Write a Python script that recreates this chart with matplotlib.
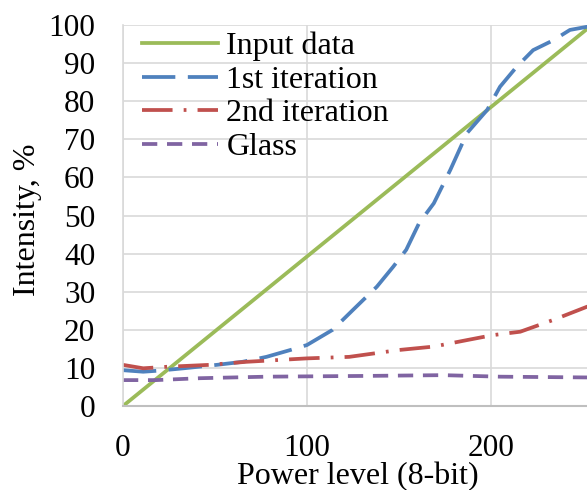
import matplotlib.pyplot as plt
import numpy as np

plt.rcParams['font.family'] = ['Liberation Serif', 'DejaVu Serif']
plt.rcParams['lines.scale_dashes'] = False

# power level (8-bit) and measured intensity, %
x_input = [0, 255]
y_input = [0, 100]

x_iter1 = [0, 11, 20, 33, 51, 65, 78, 91, 100, 114, 125, 138, 147, 154, 161,
           169, 178, 187, 198, 205, 214, 223, 234, 243, 252, 255]
y_iter1 = [9.4, 9.0, 9.3, 9.9, 10.8, 11.6, 12.9, 14.7, 16.0, 20.0, 25.2, 31.3,
           36.6, 41.0, 48.0, 53.2, 62.0, 71.6, 77.7, 83.8, 89.0, 93.4, 96.0,
           98.7, 99.5, 99.7]

x_iter2 = [0, 11, 24, 47, 67, 100, 123, 150, 169, 187, 201, 216, 234, 252, 255]
y_iter2 = [10.8, 9.9, 10.3, 10.8, 11.6, 12.5, 12.9, 14.7, 15.6, 17.3, 18.6,
           19.5, 22.6, 26.0, 26.5]

x_glass = [0, 18, 42, 78, 132, 174, 205, 252, 255]
y_glass = [6.8, 6.8, 7.3, 7.7, 7.9, 8.1, 7.7, 7.5, 7.5]

fig = plt.figure(figsize=(5.87, 4.90), dpi=100)
ax = fig.add_axes([0.2095, 0.1714, 0.799, 0.7776])

lw = 2.7
ax.plot(x_input, y_input, color='#9BBB59', lw=lw, label='Input data')
ax.plot(x_iter1, y_iter1, color='#4F81BD', lw=lw, dashes=(24, 9),
        label='1st iteration')
ax.plot(x_iter2, y_iter2, color='#C0504D', lw=lw, dashes=(22, 8, 2, 8),
        label='2nd iteration')
ax.plot(x_glass, y_glass, color='#8064A2', lw=lw, dashes=(11, 7),
        label='Glass')

ax.set_xlim(0, 255)
ax.set_ylim(0, 100)
ax.set_xticks([0, 100, 200])
ax.set_yticks(np.arange(0, 101, 10))
ax.grid(True, color='#D9D9D9', lw=1.2)
ax.set_axisbelow(True)
ax.tick_params(length=0, labelsize=22.5)
ax.tick_params(axis='x', pad=20)
ax.tick_params(axis='y', pad=20)
for s in ['top', 'right']:
    ax.spines[s].set_visible(False)
ax.spines['left'].set_color('#D9D9D9')
ax.spines['bottom'].set_color('#BFBFBF')
ax.spines['left'].set_linewidth(1.2)
ax.spines['bottom'].set_linewidth(1.5)

ax.set_xlabel('Power level (8-bit)', fontsize=23)
ax.set_ylabel('Intensity, %', fontsize=23)
ax.xaxis.set_label_coords(0.5, -0.148)
ax.yaxis.set_label_coords(-0.172, 0.49)

leg = ax.legend(loc='upper left', frameon=False, fontsize=23,
                handlelength=2.4, handletextpad=0.25, labelspacing=0.13,
                borderpad=0.0, borderaxespad=0.0,
                bbox_to_anchor=(0.04, 0.982))

fig.savefig('out.png', dpi=100)
